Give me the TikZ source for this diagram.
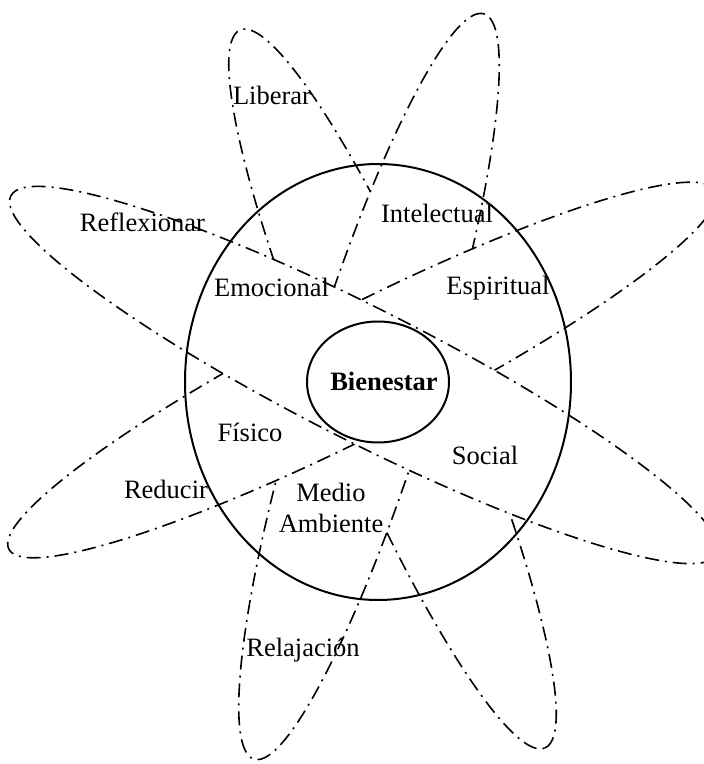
\documentclass[tikz,border=0pt]{standalone}
\usepackage{fontspec}
\setmainfont{Liberation Serif}
\usetikzlibrary{shapes.geometric}
\begin{document}
\begin{tikzpicture}[x=1pt,y=1pt,
  petal/.style={ellipse, draw=black, fill=white, inner sep=0pt,
    line width=1.6pt, dash pattern=on 14pt off 6pt on 2pt off 6pt},
  ring/.style={ellipse, draw=black, inner sep=0pt, line width=2pt},
  lbl/.style={font=\fontsize{26.5}{31}\selectfont, inner sep=0pt, anchor=base}]
\useasboundingbox (0,0) rectangle (704,764);
\clip (0,0) rectangle (704,764);
\fill[white] (0,0) rectangle (704,764);

% four long petals, each one laid over the previous
\node[petal, minimum width=780pt, minimum height=130pt, rotate=-67.0]
  (petalA) at (392.5,375) {};
\node[petal, minimum width=780pt, minimum height=128pt, rotate=72.85]
  (petalB) at (369,377.5) {};
\node[petal, minimum width=792pt, minimum height=126pt, rotate=26.9]
  (petalC) at (362,394) {};
\node[petal, minimum width=792pt, minimum height=132pt, rotate=-26.9]
  (petalD) at (364,389) {};

% outer ring of dimensions and the core
\node[ring, minimum width=386pt, minimum height=436pt] (dims) at (378,382) {};
\node[ring, fill=white, minimum width=142pt, minimum height=121pt] (core) at (378,382) {};

% labels
\node[lbl, font=\fontsize{26.5}{31}\selectfont\bfseries] (tBienestar) at (384,373) {Bienestar};
\node[lbl] (tLiberar) at (272,659) {Liberar};
\node[lbl] (tReflexionar) at (142.5,532) {Reflexionar};
\node[lbl] (tEmocional) at (271.5,467) {Emocional};
\node[lbl] (tIntelectual) at (437,541) {Intelectual};
\node[lbl] (tEspiritual) at (498,469) {Espiritual};
\node[lbl] (tFisico) at (250,322) {Físico};
\node[lbl] (tReducir) at (166,265) {Reducir};
\node[lbl] (tSocial) at (485,299) {Social};
\node[font=\fontsize{26.5}{31}\selectfont, inner sep=0pt, align=center]
  (tMedio) at (331,256.5) {Medio\\Ambiente};
\node[lbl] (tRelajacion) at (303,107) {Relajación};
\end{tikzpicture}
\end{document}
